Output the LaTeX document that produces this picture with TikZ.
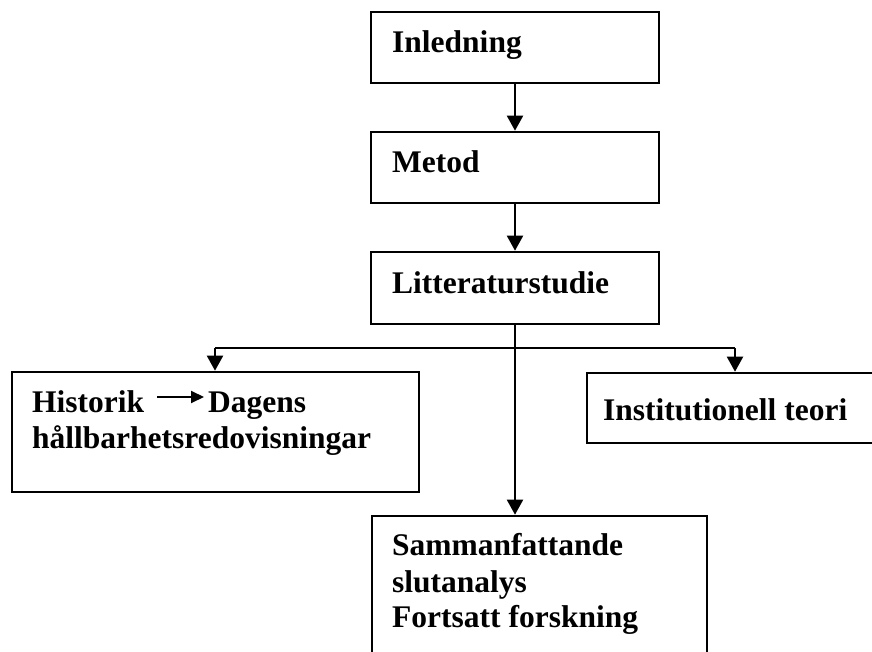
\documentclass[tikz,border=0pt]{standalone}
\usepackage{fontspec}
\setmainfont{Liberation Serif}
\usetikzlibrary{arrows.meta}
\begin{document}
\begin{tikzpicture}[x=1pt,y=-1pt,
  box/.style={draw,line width=2.6pt,rectangle,inner sep=0pt},
  lbl/.style={anchor=base west,inner sep=0pt,font=\fontsize{31.5}{36}\selectfont\bfseries},
  conn/.style={line width=2pt,-{Triangle[length=15pt,width=16pt]}},
  plain/.style={line width=2pt},
  txtarrow/.style={line width=2pt,-{Triangle[length=13pt,width=12pt]}}]
\useasboundingbox (0,0) rectangle (872,652);
\clip (0,0) rectangle (872,652);
\node[box,minimum width=288pt,minimum height=71pt] (inl) at (515,47.5) {};
\node[box,minimum width=288pt,minimum height=71pt] (met) at (515,167.5) {};
\node[box,minimum width=288pt,minimum height=72pt] (lit) at (515,288) {};
\node[box,minimum width=407pt,minimum height=120pt] (his) at (215.5,432) {};
\node[box,minimum width=293pt,minimum height=70pt] (ins) at (733.5,408) {};
\node[box,minimum width=335pt,minimum height=154pt] (sam) at (539.5,593) {};
\node[lbl] (tinl) at (392,53) {Inledning};
\node[lbl] (tmet) at (392,173) {Metod};
\node[lbl] (tlit) at (392,293) {Litteraturstudie};
\node[lbl] (this) at (32,412) {Historik};
\node[lbl] (tdag) at (208,412) {Dagens};
\node[lbl] (thal) at (32,448) {hållbarhetsredovisningar};
\node[lbl] (tins) at (603,420) {Institutionell teori};
\node[lbl] (tsam1) at (392,555) {Sammanfattande};
\node[lbl] (tsam2) at (392,592) {slutanalys};
\node[lbl] (tsam3) at (392,627) {Fortsatt forskning};
\coordinate (ta) at (157,397);
\coordinate (tb) at (204,397);
\draw[txtarrow] (ta) -- (tb);
\coordinate (split) at (515,348);
\coordinate (lsplit) at (215,348);
\coordinate (rsplit) at (735,348);
\draw[conn] (inl.south) -- (met.north);
\draw[conn] (met.south) -- (lit.north);
\draw[conn] (lit.south) -- (sam.north -| lit.south);
\draw[plain] (lsplit) -- (rsplit);
\draw[conn] (lsplit) -- (lsplit |- his.north);
\draw[conn] (rsplit) -- (rsplit |- ins.north);
\end{tikzpicture}
\end{document}
